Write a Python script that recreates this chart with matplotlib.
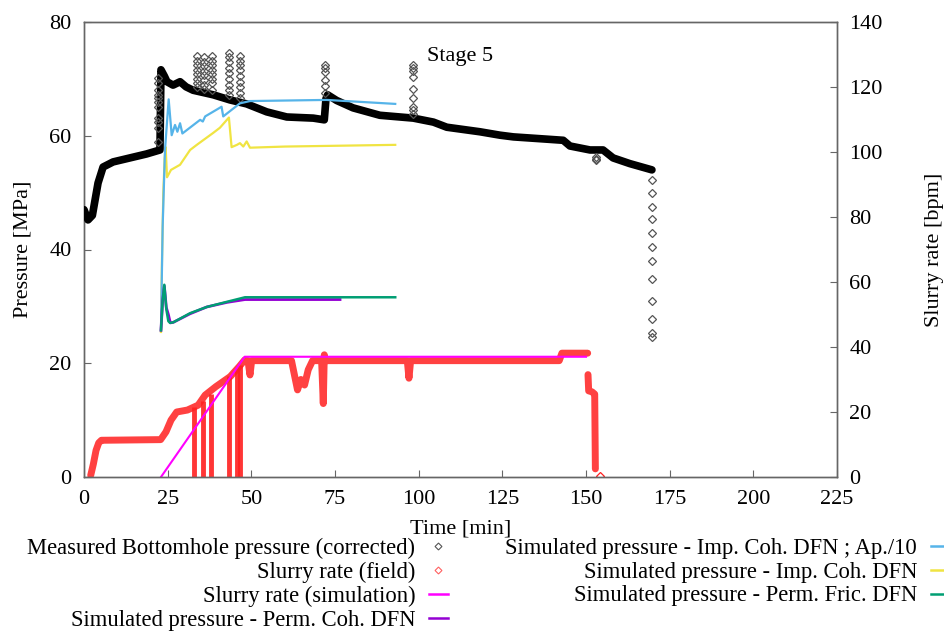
import numpy as np
import matplotlib
matplotlib.use("Agg")
import matplotlib.pyplot as plt
from matplotlib.lines import Line2D

plt.rcParams['font.family'] = ['Liberation Serif', 'DejaVu Serif']
plt.rcParams['mathtext.fontset'] = 'stix'

# measured bottomhole pressure (dense trace) [min, MPa]
meas_t = [0, 1.2, 2.5, 4.2, 5.7, 8.7, 13.7, 18.7, 22.7, 23.0, 24.0, 24.8, 26.6, 28.7, 30.5,
          32.6, 38.6, 43.6, 48.6, 54.6, 60.6, 68.5, 71.8, 72.3, 72.8, 75.5, 80.4, 88.4, 98.4,
          104.4, 108.4, 118.3, 124.3, 128.3, 138.3, 143.2, 145.2, 151.2, 155.1, 158.1, 163.1, 169.7]
meas_p = [47.0, 45.2, 46.0, 51.7, 54.5, 55.4, 56.1, 56.8, 57.5, 71.6, 70.5, 69.5, 68.9, 69.5, 68.6,
          68.0, 67.2, 66.3, 65.6, 64.2, 63.3, 63.1, 62.8, 66.5, 67.2, 66.2, 64.9, 63.6, 63.1,
          62.4, 61.5, 60.7, 60.1, 59.8, 59.4, 59.2, 58.2, 57.5, 57.5, 56.1, 55.1, 54.0]

# scattered measured points (outlier columns)
out_22 = [70.2, 69.3, 68.0, 67.2, 66.6, 65.9, 65.1, 63.1, 62.4, 61.4, 58.9]
out_34 = [74.0, 73.2, 72.4, 71.6, 70.8, 70.0, 69.2, 68.5]
out_36 = [73.8, 73.0, 72.2, 71.4, 70.6, 69.8, 69.0, 68.2]
out_38 = [74.0, 73.2, 72.4, 71.6, 70.8, 70.0, 69.2, 68.0]
out_43 = [74.5, 73.8, 73.0, 72.0, 71.0, 70.0, 69.0, 68.0, 67.2]
out_47 = [74.0, 73.2, 72.4, 71.5, 70.5, 69.5, 68.5, 67.5, 66.6]
out_72 = [72.4, 71.9, 71.2, 69.8, 68.7, 67.5]
out_98 = [72.4, 71.9, 71.3, 70.4, 68.3, 66.6, 65.1, 64.5, 63.9]
out_153 = [56.3, 55.8, 55.9]
out_170 = [52.2, 49.9, 47.5, 45.4, 42.9, 40.4, 38.0, 34.8, 30.9, 27.8, 25.3, 24.6]
out_times = [22.2, 33.7, 35.9, 38.2, 43.4, 46.6, 72.0, 98.3, 153.0, 169.7]
out_cols = [out_22, out_34, out_36, out_38, out_43, out_47, out_72, out_98, out_153, out_170]

# simulated pressures [MPa]
blue_t = [23.0, 23.5, 24.2, 25.3, 26.2, 27.2, 27.9, 28.7, 29.4, 34.7, 35.5, 36.2, 41.1, 41.6,
          46.6, 49.6, 72.5, 93.0]
blue_p = [26.0, 44.0, 57.5, 66.4, 60.1, 61.9, 60.7, 62.2, 60.4, 62.8, 62.5, 63.4, 65.1, 63.4,
          65.7, 66.1, 66.3, 65.6]
yellow_t = [23.0, 23.3, 23.7, 24.1, 24.4, 24.8, 26.0, 28.7, 31.7, 33.7, 38.6, 40.6, 43.3, 44.1,
            45.7, 46.6, 47.6, 48.6, 49.6, 60.0, 93.0]
yellow_p = [25.5, 38.0, 50.0, 56.0, 58.0, 52.7, 54.0, 54.9, 57.5, 58.4, 60.5, 61.4, 63.2, 58.0,
            58.4, 58.7, 58.1, 59.0, 57.9, 58.1, 58.4]
green_t = [23.0, 23.5, 24.0, 24.6, 25.2, 25.7, 26.7, 31.7, 36.7, 42.7, 48.1, 93.0]
green_p = [25.8, 31.0, 33.8, 29.5, 27.4, 27.1, 27.2, 28.8, 29.9, 30.8, 31.6, 31.6]
purple_t = [23.0, 23.5, 24.0, 24.6, 25.2, 25.8, 26.7, 31.7, 36.7, 42.7, 48.1, 76.5]
purple_p = [25.8, 31.0, 33.6, 29.8, 28.6, 27.1, 27.2, 28.7, 29.9, 30.7, 31.2, 31.2]

# slurry rate [bpm]
field_t = [2.0, 2.8, 3.6, 4.4, 5.2, 22.9, 24.5, 26.0, 27.7, 30.9, 34.1, 36.2, 39.4, 43.7, 46.4,
           48.0, 49.0, 49.6, 50.1, 62.0, 63.8, 64.8, 65.9, 67.0, 68.3, 71.0, 71.5, 71.8, 72.0,
           96.6, 97.1, 97.6, 142.0, 142.8, 150.5]
field_r = [0.5, 4.0, 8.2, 10.5, 11.3, 11.5, 13.9, 17.5, 20.0, 20.6, 22.1, 25.2, 27.8, 30.9, 34.0,
           36.0, 35.8, 31.4, 35.8, 35.8, 26.8, 30.0, 28.3, 33.0, 35.8, 35.8, 22.6, 37.6, 35.8,
           35.8, 30.4, 35.8, 35.8, 38.1, 38.1]
field2_t = [150.6, 150.8, 151.8, 152.6, 152.8]
field2_r = [31.5, 26.5, 26.2, 25.5, 2.5]
field_end_t = [154.2]
field_end_r = [0.3]
gap_t = [33.0, 35.7, 37.8, 43.2, 45.8, 46.7]
gap_top = [21.5, 23.5, 25.5, 31.0, 33.5, 34.5]
sim_t = [23, 48, 150]
sim_r = [0, 37, 37]

C_BLUE, C_YEL, C_GRN, C_PUR = '#56b4e9', '#f0e442', '#009e73', '#9400d3'
C_RED, C_MAG = '#ff2020', '#ff00ff'
FS = 16

fig = plt.figure(figsize=(9.45, 6.35), dpi=100)
ax = fig.add_axes([84 / 945, 1 - 477 / 635, (837 - 84) / 945, (477 - 22) / 635])
ax2 = ax.twinx()
ax.set_zorder(2); ax.patch.set_visible(False)

# measured
ax.plot(meas_t, meas_p, color='black', lw=5.5, solid_capstyle='round', solid_joinstyle='round', zorder=3)
for t, col in zip(out_times, out_cols):
    ax.plot([t] * len(col), col, ls='none', marker='D', ms=4, mfc='none', mec='#555555', mew=0.9, zorder=3)

# simulated pressures
ax.plot(yellow_t, yellow_p, color=C_YEL, lw=1.6, zorder=4)
ax.plot(blue_t, blue_p, color=C_BLUE, lw=1.6, zorder=4)
ax.plot(purple_t, purple_p, color=C_PUR, lw=2.0, zorder=4)
ax.plot(green_t, green_p, color=C_GRN, lw=1.8, zorder=5)

# slurry rate
ax2.plot(field_t, field_r, color=C_RED, lw=5, alpha=0.85, solid_joinstyle='round', solid_capstyle='round')
ax2.plot(field2_t, field2_r, color=C_RED, lw=5, alpha=0.85, solid_capstyle='round')
ax2.plot(field_end_t, field_end_r, ls='none', marker='D', ms=4, mfc='none', mec=C_RED, mew=0.9)
ax2.vlines(gap_t, 0, gap_top, color=C_RED, lw=3.5, alpha=0.9)
ax2.plot(sim_t, sim_r, color=C_MAG, lw=1.5)

ax.set_xlim(0, 225)
ax.set_ylim(0, 80)
ax2.set_ylim(0, 140)
ax.set_xticks(np.arange(0, 226, 25))
ax.set_yticks(np.arange(0, 81, 20))
ax2.set_yticks(np.arange(0, 141, 20))

for a in (ax, ax2):
    for s in a.spines.values():
        s.set_color('#666666')
        s.set_linewidth(1.0)
ax.tick_params(axis='both', direction='in', length=5, width=0.8, color='#666666',
               labelsize=FS, pad=9, top=False, right=False)
ax2.tick_params(axis='y', direction='in', length=5, width=0.8, color='#666666',
                labelsize=FS, pad=9)

ax.set_xlabel('Time [min]', fontsize=FS, labelpad=8)
ax.set_ylabel('Pressure [MPa]', fontsize=FS, labelpad=12)
ax2.set_ylabel('Slurry rate [bpm]', fontsize=FS, labelpad=30)
ax.text(102.5, 74.0, 'Stage 5', fontsize=FS, va='center', ha='left')

# legends
h1 = [Line2D([], [], ls='none', marker='D', ms=3.5, mfc='none', mec='#555555', mew=0.8),
      Line2D([], [], ls='none', marker='D', ms=3.5, mfc='none', mec='#ff6060', mew=0.8),
      Line2D([], [], color=C_MAG, lw=1.8),
      Line2D([], [], color=C_PUR, lw=1.8)]
l1 = ['Measured Bottomhole pressure (corrected)', 'Slurry rate (field)',
      'Slurry rate (simulation)', 'Simulated pressure - Perm. Coh. DFN']
h2 = [Line2D([], [], color=C_BLUE, lw=1.8),
      Line2D([], [], color=C_YEL, lw=1.8),
      Line2D([], [], color=C_GRN, lw=1.8)]
l2 = ['Simulated pressure - Imp. Coh. DFN ; Ap./10', 'Simulated pressure - Imp. Coh. DFN',
      'Simulated pressure - Perm. Fric. DFN']
kw = dict(loc='upper right', markerfirst=False, frameon=False, borderpad=0, borderaxespad=0,
          handlelength=0.85, handletextpad=0.6, labelspacing=0.12, fontsize=16.3)
fig.legend(h1, l1, bbox_to_anchor=(448 / 945, 1 - 538 / 635), **kw)
fig.legend(h2, l2, bbox_to_anchor=(950 / 945, 1 - 538 / 635), **kw)

fig.savefig('out.png', dpi=100)
